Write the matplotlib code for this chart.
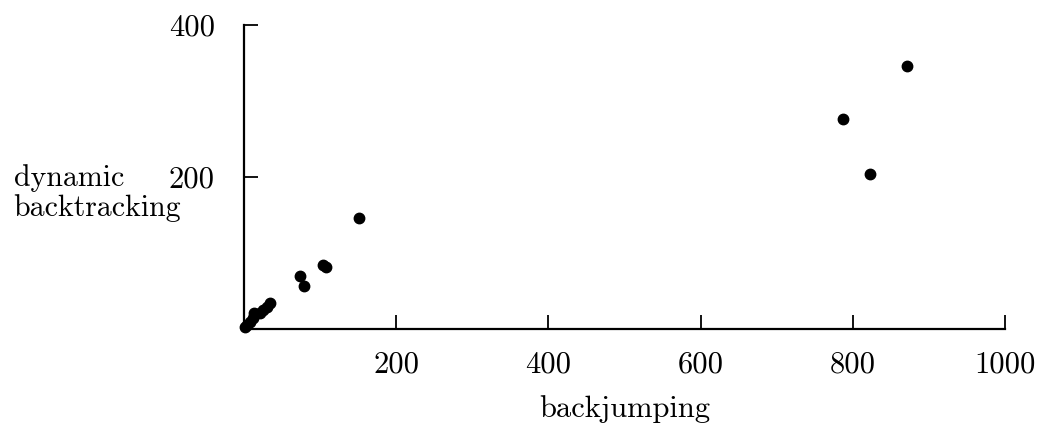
import numpy as np
from matplotlib import pyplot as plt

# backjumping vs dynamic backtracking
backjumping = [1, 4, 8, 12, 14, 21, 25, 30, 34, 74, 79, 104, 108, 151, 787, 823, 871]
dynamic_bt = [2, 5, 9, 14, 21, 21, 25, 29, 34, 70, 57, 84, 82, 146, 276, 204, 346]
x_ticks = [200, 400, 600, 800, 1000]
y_ticks = [200, 400]

plt.rcParams['font.family'] = ['cmr10', 'DejaVu Serif']
plt.rcParams['axes.unicode_minus'] = False

fig = plt.figure(figsize=(10.42, 4.33), dpi=100)
ax = fig.add_axes([0.234, 0.2402, 0.7305, 0.7021])

ax.plot(backjumping, dynamic_bt, 'o', color='black', ms=7.5, clip_on=False)

ax.set_xlim(0, 1000)
ax.set_ylim(0, 400)
ax.spines['top'].set_visible(False)
ax.spines['right'].set_visible(False)
ax.spines['left'].set_linewidth(1.6)
ax.spines['bottom'].set_linewidth(1.6)

ax.set_xticks(x_ticks)
ax.set_xticklabels([str(t) for t in x_ticks])
ax.set_yticks(y_ticks)
ax.set_yticklabels([str(t) for t in y_ticks])
ax.tick_params(axis='x', direction='in', length=10, width=1.3, pad=16, labelsize=22)
ax.tick_params(axis='y', direction='in', length=10, width=1.3, pad=21, labelsize=22)

ax.set_xlabel('backjumping', fontsize=22, labelpad=12)
# y label in two pieces, first line level with the 200 tick
fig.text(0.013, 1 - 186 / 433, 'dynamic', ha='left', va='baseline', fontsize=21.5)
fig.text(0.013, 1 - 216 / 433, 'backtracking', ha='left', va='baseline', fontsize=21.5)

fig.savefig('out.png', dpi=100)
